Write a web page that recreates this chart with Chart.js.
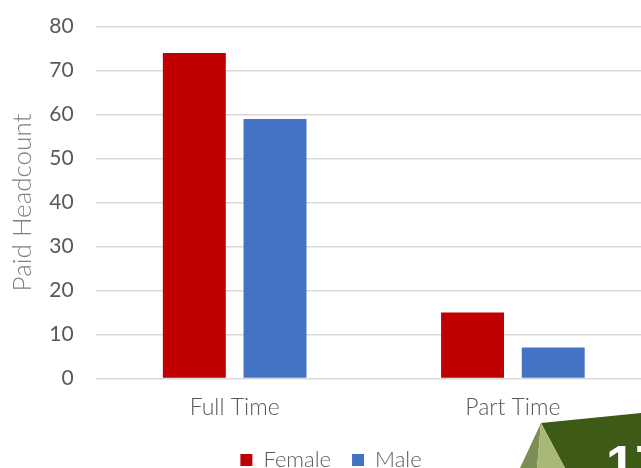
<!DOCTYPE html>
<html>
<head>
<meta charset="utf-8">
<script src="https://cdn.jsdelivr.net/npm/chart.js@4.4.0/dist/chart.umd.min.js"></script>
<style>
  html, body { margin: 0; padding: 0; background: #fff; overflow: hidden; }
  #wrap { position: relative; width: 641px; height: 468px; overflow: hidden; }
  #box { position: absolute; left: 0; top: -8px; width: 652px; height: 489px; }
  #deco { position: absolute; left: 0; top: 0; }
</style>
</head>
<body>
<div id="wrap">
  <div id="box"><canvas id="chart"></canvas></div>
  <svg id="deco" width="641" height="468">
    <polygon points="541,423 641,413 641,468 565,468" fill="#3d5a17"/>
    <polygon points="541,423 537,468 520,468" fill="#7b8f55"/>
    <polygon points="541,423 565,468 537,468" fill="#a9b878"/>
    <text x="606" y="482" font-family="Liberation Sans, Arial" font-weight="bold" font-size="52" fill="#fff">17</text>
  </svg>
</div>
<script>
// Chart data
const categories = ['Full Time', 'Part Time'];
const femaleValues = [74, 15];
const maleValues = [59, 7];
const yTicks = [0, 10, 20, 30, 40, 50, 60, 70, 80];

const fontFamily = 'Lato, "Open Sans", sans-serif';

// nudge the legend a bit to the right, like the original slide
const legendShift = {
  id: 'legendShift',
  afterLayout(chart) {
    chart.legend.left += 10;
    chart.legend.right += 10;
  }
};

const ctx = document.getElementById('chart').getContext('2d');
new Chart(ctx, {
  type: 'bar',
  data: {
    labels: categories,
    datasets: [
      {
        label: 'Female',
        data: femaleValues,
        backgroundColor: '#C00000',
        barPercentage: 0.78,
        categoryPercentage: 0.58
      },
      {
        label: 'Male',
        data: maleValues,
        backgroundColor: '#4472C4',
        barPercentage: 0.78,
        categoryPercentage: 0.58
      }
    ]
  },
  options: {
    responsive: true,
    maintainAspectRatio: false,
    animation: false,
    layout: { padding: { left: -10, top: 4, right: 0, bottom: 0 } },
    plugins: {
      legend: {
        position: 'bottom',
        labels: {
          boxWidth: 12,
          boxHeight: 12,
          padding: 21,
          color: '#595959',
          font: { family: fontFamily, size: 22, weight: '300' }
        }
      },
      tooltip: { enabled: false }
    },
    scales: {
      x: {
        grid: { display: false },
        border: { display: false },
        ticks: {
          color: '#595959',
          padding: 7,
          font: { family: fontFamily, size: 23, weight: '300' }
        }
      },
      y: {
        min: 0,
        max: 80,
        afterBuildTicks: axis => { axis.ticks = yTicks.map(v => ({ value: v })); },
        grid: { color: '#d9d9d9', lineWidth: 1.5, drawTicks: false },
        border: { display: false },
        title: {
          display: true,
          text: 'Paid Headcount',
          color: '#7f7f7f',
          font: { family: fontFamily, size: 26, weight: '300' },
          padding: { top: 17, bottom: -11 }
        },
        ticks: {
          color: '#595959',
          padding: 22,
          font: { family: fontFamily, size: 21 }
        }
      }
    }
  },
  plugins: [legendShift]
});
</script>
</body>
</html>
